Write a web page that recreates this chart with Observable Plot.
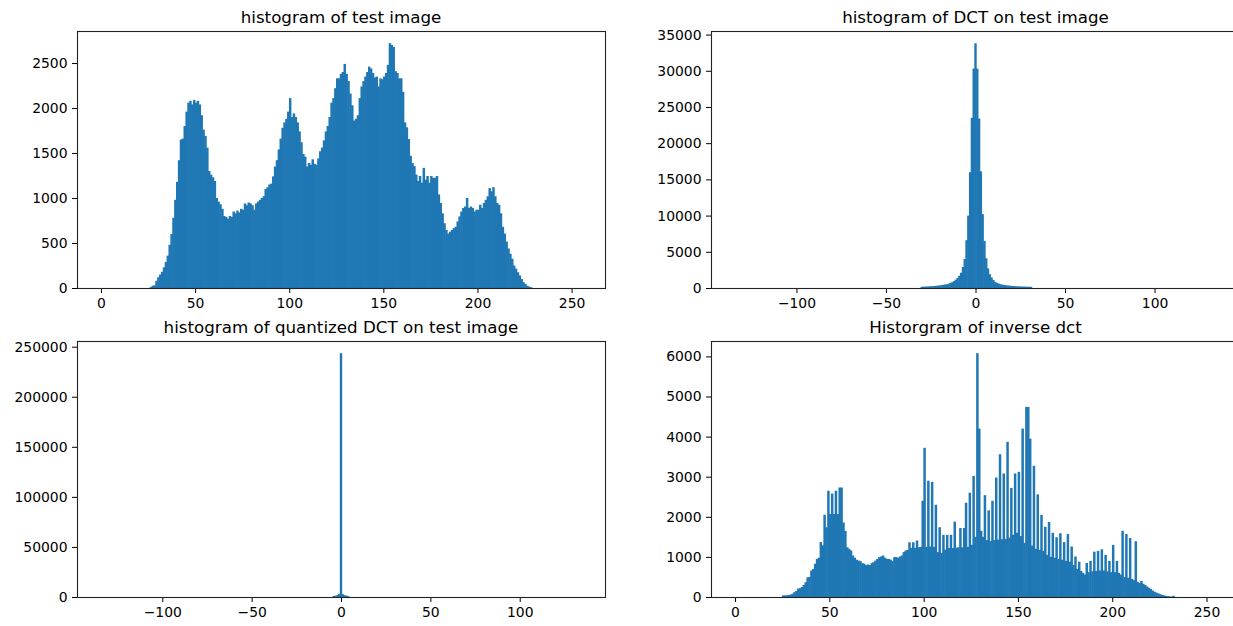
<!DOCTYPE html>
<html>
<head>
<meta charset="utf-8">
<script src="https://cdn.jsdelivr.net/npm/d3@7"></script>
<script src="https://cdn.jsdelivr.net/npm/@observablehq/plot@0.6"></script>
<style>
  html, body { margin: 0; padding: 0; background: #fff; }
  #root { position: relative; width: 1233px; height: 626px; overflow: hidden; background: #fff; }
  .panel { position: absolute; }
  .title { position: absolute; font-family: "DejaVu Sans", sans-serif; font-size: 16.7px; line-height: 16.7px; color: #000; white-space: nowrap; transform: translateX(-50%); }
</style>
</head>
<body>
<div id="root"></div>
<script>
// ---------- data ----------
const titles = ["histogram of test image", "histogram of DCT on test image", "histogram of quantized DCT on test image", "Historgram of inverse dct"];

// test image histogram: counts per intensity bin, starting at bin 26
const imgStart = 26;
const imgCounts = [
  10,25,30,80,120,150,180,230,290,360,
  480,600,780,980,1180,1420,1650,1660,1800,1960,
  2060,2080,2040,2090,2060,2080,2040,1920,1760,1690,
  1560,1300,1260,1230,1190,1000,960,930,880,800,
  790,770,800,790,850,830,860,840,880,870,
  940,920,950,940,920,870,940,960,980,1000,
  1020,1100,1120,1150,1160,1240,1350,1420,1540,1660,
  1780,1840,1880,1960,2110,1900,1940,1900,1840,1740,
  1620,1490,1460,1350,1390,1370,1430,1380,1370,1440,
  1520,1560,1640,1740,1800,1900,2060,2110,2220,2330,
  2330,2380,2400,2490,2380,2300,2160,2030,1860,1880,
  1920,2110,2240,2300,2350,2400,2460,2440,2390,2340,
  2350,2240,2330,2320,2350,2390,2480,2720,2700,2680,
  2410,2390,2330,2330,2180,1840,1785,1655,1470,1390,
  1355,1260,1190,1245,1170,1335,1205,1245,1170,1245,
  1225,1225,1245,1040,945,830,720,645,605,625,
  645,665,680,740,795,850,890,905,1000,890,
  905,890,850,870,870,925,890,945,980,1020,
  1110,1075,1120,1020,945,925,830,680,605,515,
  440,380,325,250,215,175,140,100,65,45,
  25,15,8
];

// DCT histogram: counts per unit bin centred on integers, starting at -30
const dctStart = -30;
const dctCounts = [
  170,180,190,200,220,240,260,280,300,330,
  360,400,440,480,520,580,680,800,950,1150,
  1400,1700,2100,2900,4000,6600,10000,16000,23500,30300,
  33800,30300,23400,16100,10200,6500,4100,2700,1900,1450,
  1100,850,700,600,520,460,420,380,350,320,
  290,270,250,230,220,210,200,190,180,175,
  170,160
];

// quantized DCT histogram, starting at -4
const qStart = -4;
const qCounts = [1000,1400,1800,3000,243500,2800,1800,1300,900];

// inverse DCT histogram, starting at bin 25
const invStart = 25;
const invCounts = [
  40,40,45,50,60,80,120,150,210,220,
  250,300,370,490,500,660,700,830,950,980,
  1370,1290,2050,1740,2650,2070,2580,2070,2650,2070,
  2730,2730,1860,1650,1240,1200,1160,1035,980,930,
  910,895,845,830,795,810,795,845,870,910,
  950,995,1010,1035,980,950,950,930,895,995,
  995,980,1010,1035,1120,1160,1175,1365,1225,1365,
  1225,1410,1240,1250,2400,3720,1250,2900,1260,2870,
  1250,2300,1120,1740,1100,1550,1180,1550,1220,1550,
  1220,1880,1230,1240,1720,1240,1720,2350,1250,2600,
  1300,3020,1500,6080,4200,1650,1500,2540,1420,2160,
  1400,2400,1420,2980,1430,3560,1440,3080,1450,3870,
  1480,2720,1550,3080,1600,3120,1520,4200,1350,4740,
  4740,3950,1280,3270,1200,2560,1180,2050,1150,1750,
  1050,1870,1000,1600,980,1490,950,1590,930,1370,
  900,1570,880,1260,800,1010,700,880,650,600,
  560,850,620,900,640,1130,650,1150,660,1190,
  660,1050,640,900,620,1300,620,900,600,560,
  1650,500,1570,480,1470,450,420,1390,380,350,
  400,330,300,260,230,200,160,130,110,90,
  70,50,40,30,20,15,10,30
];

// tick values
const intensityTicks = [0, 50, 100, 150, 200, 250];
const dctTicks = [-100, -50, 0, 50, 100];
const imgYTicks = [0, 500, 1000, 1500, 2000, 2500];
const dctYTicks = [0, 5000, 10000, 15000, 20000, 25000, 30000, 35000];
const qYTicks = [0, 50000, 100000, 150000, 200000, 250000];
const invYTicks = [0, 1000, 2000, 3000, 4000, 5000, 6000];

// data ranges of the underlying values (axes get matplotlib's 5% margin)
const intensityRange = [0, 255];
const dctRange = [-134.3, 134.3];

// ---------- drawing ----------
const blue = "#1f77b4";
const fmt = d => d < 0 ? "\u2212" + Math.abs(d) : String(d);
const padded = ([a, b]) => [a - (b - a) * 0.05, b + (b - a) * 0.05];

function toBins(start, counts, centred) {
  return counts.map((c, i) => {
    const v = start + i;
    return centred ? {x1: v - 0.5, x2: v + 0.5, count: c} : {x1: v, x2: v + 1, count: c};
  });
}

function panel({left, top, width, height, mL, mR, mT, mB, bins, xRange, xTicks, yTicks}) {
  const ymax = d3.max(bins, d => d.count) * 1.05;
  const svg = Plot.plot({
    width, height,
    marginLeft: mL, marginRight: mR, marginTop: mT, marginBottom: mB,
    style: {fontFamily: "'DejaVu Sans', sans-serif", fontSize: "13.9px", color: "#000", background: "transparent", overflow: "visible"},
    x: {domain: padded(xRange), ticks: xTicks, tickFormat: fmt, tickSize: 5, tickPadding: 5, label: null},
    y: {domain: [0, ymax], ticks: yTicks, tickFormat: fmt, tickSize: 5, tickPadding: 5, label: null},
    marks: [
      Plot.rect(bins, {x1: "x1", x2: "x2", y1: () => 0, y2: "count", fill: blue, insetLeft: -0.3, insetRight: -0.3}),
      Plot.frame({stroke: "#222", strokeWidth: 1.1})
    ]
  });
  svg.classList.add("panel");
  svg.style.left = left + "px";
  svg.style.top = top + "px";
  svg.style.maxWidth = "none";
  return svg;
}

const root = document.getElementById("root");
root.appendChild(panel({left: 0, top: 0, width: 620, height: 320, mL: 77, mR: 15, mT: 31, mB: 32,
  bins: toBins(imgStart, imgCounts, false), xRange: intensityRange, xTicks: intensityTicks, yTicks: imgYTicks}));
root.appendChild(panel({left: 620, top: 0, width: 640, height: 320, mL: 91, mR: 20, mT: 31, mB: 32,
  bins: toBins(dctStart, dctCounts, true), xRange: dctRange, xTicks: dctTicks, yTicks: dctYTicks}));
root.appendChild(panel({left: 0, top: 310, width: 620, height: 316, mL: 77, mR: 15, mT: 31, mB: 29,
  bins: toBins(qStart, qCounts, true), xRange: dctRange, xTicks: dctTicks, yTicks: qYTicks}));
root.appendChild(panel({left: 620, top: 310, width: 640, height: 316, mL: 91, mR: 20, mT: 31, mB: 29,
  bins: toBins(invStart, invCounts, false), xRange: intensityRange, xTicks: intensityTicks, yTicks: invYTicks}));

// titles centred over each axes frame
const titlePos = [[341, 9], [975.5, 9], [341, 319], [975.5, 319]];
titles.forEach((t, i) => {
  const div = document.createElement("div");
  div.className = "title";
  div.textContent = t;
  div.style.left = titlePos[i][0] + "px";
  div.style.top = titlePos[i][1] + "px";
  root.appendChild(div);
});
</script>
</body>
</html>
